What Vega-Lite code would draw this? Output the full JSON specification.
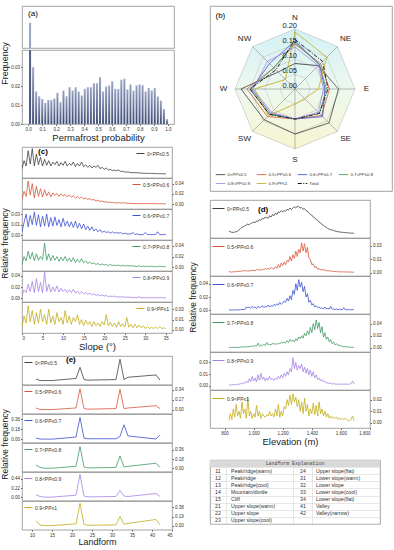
{
"$schema":"https://vega.github.io/schema/vega-lite/v6.json",
"background":"white",
"padding":{"left":0,"top":5,"right":0,"bottom":0},
"config":{
 "font":"Liberation Sans",
 "view":{"stroke":"#8c8c8c","strokeWidth":0.8},
 "axis":{"labelFontSize":4.5,"labelColor":"#333","tickSize":1.5,"tickColor":"#666","domain":false,"grid":false,"titleFontSize":9,"titleFontWeight":"normal","titleColor":"#222","labelPadding":1,"titlePadding":1},
 "legend":{"symbolType":"stroke","labelFontSize":5,"labelColor":"#333","symbolStrokeWidth":1,"padding":1,"offset":1,"labelOffset":2,"symbolSize":64,"rowPadding":0},
 "text":{"font":"Liberation Sans"}
},
"datasets":{
"hist":[
{"p":0.0,"q":0.0217,"f":0.212},{"p":0.0217,"q":0.0435,"f":0.030},{"p":0.0435,"q":0.0652,"f":0.0171},{"p":0.0652,"q":0.087,"f":0.0146},{"p":0.087,"q":0.1087,"f":0.0132},{"p":0.1087,"q":0.1304,"f":0.0111},{"p":0.1304,"q":0.1522,"f":0.0127},{"p":0.1522,"q":0.1739,"f":0.0127},{"p":0.1739,"q":0.1957,"f":0.0134},{"p":0.1957,"q":0.2174,"f":0.0164},{"p":0.2174,"q":0.2391,"f":0.0115},{"p":0.2391,"q":0.2609,"f":0.0176},{"p":0.2609,"q":0.2826,"f":0.0146},{"p":0.2826,"q":0.3043,"f":0.0194},{"p":0.3043,"q":0.3261,"f":0.0176},{"p":0.3261,"q":0.3478,"f":0.0194},{"p":0.3478,"q":0.3696,"f":0.0171},{"p":0.3696,"q":0.3913,"f":0.015},{"p":0.3913,"q":0.413,"f":0.0185},{"p":0.413,"q":0.4348,"f":0.0194},{"p":0.4348,"q":0.4565,"f":0.0194},{"p":0.4565,"q":0.4783,"f":0.0215},{"p":0.4783,"q":0.5,"f":0.0215},{"p":0.5,"q":0.5217,"f":0.0247},{"p":0.5217,"q":0.5435,"f":0.0171},{"p":0.5435,"q":0.5652,"f":0.0198},{"p":0.5652,"q":0.587,"f":0.0203},{"p":0.587,"q":0.6087,"f":0.0226},{"p":0.6087,"q":0.6304,"f":0.0185},{"p":0.6304,"q":0.6522,"f":0.0185},{"p":0.6522,"q":0.6739,"f":0.0233},{"p":0.6739,"q":0.6957,"f":0.0238},{"p":0.6957,"q":0.7174,"f":0.0182},{"p":0.7174,"q":0.7391,"f":0.0208},{"p":0.7391,"q":0.7609,"f":0.0176},{"p":0.7609,"q":0.7826,"f":0.0203},{"p":0.7826,"q":0.8043,"f":0.0208},{"p":0.8043,"q":0.8261,"f":0.0205},{"p":0.8261,"q":0.8478,"f":0.0171},{"p":0.8478,"q":0.8696,"f":0.019},{"p":0.8696,"q":0.8913,"f":0.0176},{"p":0.8913,"q":0.913,"f":0.019},{"p":0.913,"q":0.9348,"f":0.0145},{"p":0.9348,"q":0.9565,"f":0.0123},{"p":0.9565,"q":0.9783,"f":0.0079},{"p":0.9783,"q":1.0,"f":0.0026}
],
"slope":[
{"s":0,"a":0.008,"b":0.01,"c":0.005,"d":0.005,"e":0.005,"f":0.005},
{"s":0.5,"a":0.02,"b":0.025,"c":0.018,"d":0.02,"e":0.015,"f":0.02},
{"s":1,"a":0.012,"b":0.015,"c":0.03,"d":0.012,"e":0.01,"f":0.01},
{"s":1.5,"a":0.035,"b":0.045,"c":0.012,"d":0.03,"e":0.025,"f":0.035},
{"s":2,"a":0.015,"b":0.018,"c":0.028,"d":0.015,"e":0.012,"f":0.012},
{"s":2.5,"a":0.038,"b":0.04,"c":0.015,"d":0.028,"e":0.03,"f":0.028},
{"s":3,"a":0.012,"b":0.012,"c":0.033,"d":0.012,"e":0.01,"f":0.008},
{"s":3.5,"a":0.03,"b":0.035,"c":0.014,"d":0.025,"e":0.035,"f":0.025},
{"s":4,"a":0.014,"b":0.015,"c":0.029,"d":0.013,"e":0.012,"f":0.01},
{"s":4.5,"a":0.025,"b":0.03,"c":0.012,"d":0.02,"e":0.028,"f":0.03},
{"s":5,"a":0.012,"b":0.014,"c":0.027,"d":0.014,"e":0.01,"f":0.012},
{"s":5.5,"a":0.022,"b":0.028,"c":0.013,"d":0.045,"e":0.046,"f":0.022},
{"s":6,"a":0.013,"b":0.016,"c":0.03,"d":0.013,"e":0.012,"f":0.008},
{"s":6.5,"a":0.02,"b":0.024,"c":0.012,"d":0.025,"e":0.025,"f":0.03},
{"s":7,"a":0.012,"b":0.014,"c":0.025,"d":0.012,"e":0.011,"f":0.01},
{"s":7.5,"a":0.018,"b":0.022,"c":0.013,"d":0.022,"e":0.02,"f":0.02},
{"s":8,"a":0.014,"b":0.017,"c":0.026,"d":0.013,"e":0.012,"f":0.008},
{"s":8.5,"a":0.019,"b":0.021,"c":0.014,"d":0.02,"e":0.022,"f":0.025},
{"s":9,"a":0.012,"b":0.015,"c":0.022,"d":0.011,"e":0.011,"f":0.012},
{"s":9.5,"a":0.017,"b":0.02,"c":0.012,"d":0.019,"e":0.018,"f":0.018},
{"s":10,"a":0.013,"b":0.016,"c":0.024,"d":0.012,"e":0.012,"f":0.008},
{"s":10.5,"a":0.019,"b":0.019,"c":0.013,"d":0.02,"e":0.016,"f":0.028},
{"s":11,"a":0.012,"b":0.014,"c":0.02,"d":0.011,"e":0.01,"f":0.01},
{"s":11.5,"a":0.016,"b":0.018,"c":0.012,"d":0.017,"e":0.015,"f":0.02},
{"s":12,"a":0.013,"b":0.014,"c":0.019,"d":0.01,"e":0.01,"f":0.008},
{"s":12.5,"a":0.018,"b":0.016,"c":0.011,"d":0.018,"e":0.016,"f":0.018},
{"s":13,"a":0.011,"b":0.012,"c":0.02,"d":0.009,"e":0.009,"f":0.012},
{"s":13.5,"a":0.016,"b":0.015,"c":0.01,"d":0.015,"e":0.013,"f":0.022},
{"s":14,"a":0.012,"b":0.011,"c":0.017,"d":0.009,"e":0.008,"f":0.008},
{"s":14.5,"a":0.018,"b":0.014,"c":0.009,"d":0.016,"e":0.012,"f":0.015},
{"s":15,"a":0.011,"b":0.01,"c":0.016,"d":0.008,"e":0.008,"f":0.006},
{"s":15.5,"a":0.014,"b":0.012,"c":0.008,"d":0.012,"e":0.01,"f":0.014},
{"s":16,"a":0.01,"b":0.009,"c":0.013,"d":0.007,"e":0.007,"f":0.008},
{"s":16.5,"a":0.013,"b":0.011,"c":0.007,"d":0.01,"e":0.009,"f":0.012},
{"s":17,"a":0.009,"b":0.008,"c":0.012,"d":0.006,"e":0.006,"f":0.005},
{"s":17.5,"a":0.012,"b":0.009,"c":0.006,"d":0.008,"e":0.008,"f":0.012},
{"s":18,"a":0.01,"b":0.006,"c":0.009,"d":0.005,"e":0.005,"f":0.006},
{"s":18.5,"a":0.013,"b":0.008,"c":0.005,"d":0.007,"e":0.007,"f":0.01},
{"s":19,"a":0.008,"b":0.005,"c":0.008,"d":0.004,"e":0.004,"f":0.005},
{"s":19.5,"a":0.01,"b":0.006,"c":0.004,"d":0.006,"e":0.006,"f":0.012},
{"s":20,"a":0.007,"b":0.004,"c":0.006,"d":0.004,"e":0.004,"f":0.007},
{"s":20.5,"a":0.009,"b":0.005,"c":0.004,"d":0.005,"e":0.005,"f":0.022},
{"s":21,"a":0.006,"b":0.003,"c":0.005,"d":0.003,"e":0.003,"f":0.006},
{"s":21.5,"a":0.007,"b":0.004,"c":0.003,"d":0.005,"e":0.004,"f":0.011},
{"s":22,"a":0.005,"b":0.003,"c":0.005,"d":0.003,"e":0.003,"f":0.005},
{"s":22.5,"a":0.006,"b":0.003,"c":0.003,"d":0.004,"e":0.004,"f":0.01},
{"s":23,"a":0.005,"b":0.002,"c":0.004,"d":0.003,"e":0.002,"f":0.004},
{"s":23.5,"a":0.006,"b":0.003,"c":0.003,"d":0.004,"e":0.003,"f":0.012},
{"s":24,"a":0.004,"b":0.002,"c":0.004,"d":0.002,"e":0.002,"f":0.005},
{"s":24.5,"a":0.004,"b":0.003,"c":0.002,"d":0.004,"e":0.003,"f":0.009},
{"s":25,"a":0.003,"b":0.002,"c":0.003,"d":0.002,"e":0.002,"f":0.004},
{"s":25.5,"a":0.003,"b":0.002,"c":0.002,"d":0.003,"e":0.002,"f":0.018},
{"s":26,"a":0.003,"b":0.001,"c":0.002,"d":0.002,"e":0.002,"f":0.004},
{"s":26.5,"a":0.002,"b":0.002,"c":0.002,"d":0.003,"e":0.002,"f":0.008},
{"s":27,"a":0.002,"b":0.001,"c":0.004,"d":0.002,"e":0.001,"f":0.003},
{"s":27.5,"a":0.002,"b":0.001,"c":0.001,"d":0.002,"e":0.002,"f":0.008},
{"s":28,"a":0.002,"b":0.001,"c":0.002,"d":0.001,"e":0.001,"f":0.003},
{"s":28.5,"a":0.0015,"b":0.001,"c":0.001,"d":0.003,"e":0.003,"f":0.007},
{"s":29,"a":0.0015,"b":0.001,"c":0.001,"d":0.001,"e":0.001,"f":0.003},
{"s":29.5,"a":0.001,"b":0.001,"c":0.001,"d":0.002,"e":0.001,"f":0.006},
{"s":30,"a":0.001,"b":0.001,"c":0.004,"d":0.001,"e":0.001,"f":0.002},
{"s":30.5,"a":0.001,"b":0.001,"c":0.001,"d":0.002,"e":0.001,"f":0.005},
{"s":31,"a":0.001,"b":0.001,"c":0.001,"d":0.001,"e":0.001,"f":0.002},
{"s":31.5,"a":0.0008,"b":0.001,"c":0.001,"d":0.002,"e":0.001,"f":0.004},
{"s":32,"a":0.0008,"b":0.001,"c":0.001,"d":0.001,"e":0.001,"f":0.002},
{"s":32.5,"a":0.0006,"b":0.001,"c":0.001,"d":0.001,"e":0.001,"f":0.004},
{"s":33,"a":0.0005,"b":0.0008,"c":0.005,"d":0.001,"e":0.001,"f":0.002},
{"s":33.5,"a":0.0005,"b":0.0008,"c":0.001,"d":0.002,"e":0.001,"f":0.005},
{"s":34,"a":0.0004,"b":0.0006,"c":0.001,"d":0.001,"e":0.001,"f":0.002},
{"s":34.5,"a":0.0003,"b":0.0006,"c":0.001,"d":0.001,"e":0.001,"f":0.003},
{"s":35,"a":0.0003,"b":0.0005,"c":0.001,"d":0.001,"e":0.001,"f":0.002}
],
"elev":[
{"z":830,"a":0.002,"b":0.002,"c":0.001,"d":0.001,"e":0.001,"f":0.002},
{"z":840,"a":0.0015,"b":0.001,"c":0.0005,"d":0.001,"e":0.001,"f":0.008},
{"z":850,"a":0.001,"b":0.001,"c":0.0005,"d":0.001,"e":0.001,"f":0.003},
{"z":860,"a":0.001,"b":0.0015,"c":0.0005,"d":0.001,"e":0.0015,"f":0.012},
{"z":870,"a":0.0012,"b":0.001,"c":0.0005,"d":0.001,"e":0.001,"f":0.005},
{"z":880,"a":0.0015,"b":0.002,"c":0.0006,"d":0.001,"e":0.002,"f":0.016},
{"z":890,"a":0.002,"b":0.0015,"c":0.0006,"d":0.001,"e":0.0015,"f":0.006},
{"z":900,"a":0.003,"b":0.002,"c":0.0008,"d":0.001,"e":0.002,"f":0.01},
{"z":910,"a":0.004,"b":0.0015,"c":0.001,"d":0.0015,"e":0.003,"f":0.004},
{"z":920,"a":0.005,"b":0.0025,"c":0.0012,"d":0.0015,"e":0.002,"f":0.018},
{"z":930,"a":0.0055,"b":0.002,"c":0.0012,"d":0.002,"e":0.004,"f":0.008},
{"z":940,"a":0.006,"b":0.003,"c":0.0015,"d":0.0015,"e":0.003,"f":0.012},
{"z":950,"a":0.007,"b":0.002,"c":0.005,"d":0.002,"e":0.006,"f":0.004},
{"z":960,"a":0.0075,"b":0.0025,"c":0.004,"d":0.0025,"e":0.004,"f":0.022},
{"z":970,"a":0.007,"b":0.002,"c":0.005,"d":0.002,"e":0.009,"f":0.006},
{"z":980,"a":0.008,"b":0.003,"c":0.003,"d":0.003,"e":0.005,"f":0.01},
{"z":990,"a":0.0085,"b":0.0025,"c":0.006,"d":0.0025,"e":0.012,"f":0.004},
{"z":1000,"a":0.009,"b":0.003,"c":0.004,"d":0.003,"e":0.006,"f":0.008},
{"z":1010,"a":0.0085,"b":0.0025,"c":0.005,"d":0.004,"e":0.01,"f":0.005},
{"z":1020,"a":0.01,"b":0.004,"c":0.003,"d":0.003,"e":0.005,"f":0.015},
{"z":1030,"a":0.0095,"b":0.003,"c":0.006,"d":0.008,"e":0.014,"f":0.006},
{"z":1040,"a":0.011,"b":0.0035,"c":0.004,"d":0.003,"e":0.007,"f":0.01},
{"z":1050,"a":0.0105,"b":0.003,"c":0.005,"d":0.005,"e":0.016,"f":0.004},
{"z":1060,"a":0.012,"b":0.004,"c":0.007,"d":0.004,"e":0.008,"f":0.008},
{"z":1070,"a":0.0115,"b":0.0035,"c":0.004,"d":0.006,"e":0.011,"f":0.006},
{"z":1080,"a":0.013,"b":0.005,"c":0.006,"d":0.004,"e":0.006,"f":0.005},
{"z":1090,"a":0.0125,"b":0.004,"c":0.005,"d":0.009,"e":0.01,"f":0.007},
{"z":1100,"a":0.012,"b":0.005,"c":0.008,"d":0.005,"e":0.007,"f":0.006},
{"z":1110,"a":0.014,"b":0.004,"c":0.005,"d":0.006,"e":0.012,"f":0.01},
{"z":1120,"a":0.013,"b":0.006,"c":0.007,"d":0.005,"e":0.008,"f":0.006},
{"z":1130,"a":0.015,"b":0.005,"c":0.006,"d":0.008,"e":0.009,"f":0.008},
{"z":1140,"a":0.014,"b":0.0045,"c":0.009,"d":0.006,"e":0.007,"f":0.005},
{"z":1150,"a":0.016,"b":0.007,"c":0.007,"d":0.007,"e":0.01,"f":0.012},
{"z":1160,"a":0.015,"b":0.005,"c":0.01,"d":0.006,"e":0.008,"f":0.006},
{"z":1170,"a":0.017,"b":0.009,"c":0.008,"d":0.008,"e":0.012,"f":0.016},
{"z":1180,"a":0.0165,"b":0.006,"c":0.012,"d":0.007,"e":0.009,"f":0.005},
{"z":1190,"a":0.018,"b":0.011,"c":0.009,"d":0.009,"e":0.014,"f":0.01},
{"z":1200,"a":0.017,"b":0.008,"c":0.011,"d":0.008,"e":0.01,"f":0.006},
{"z":1210,"a":0.018,"b":0.012,"c":0.014,"d":0.01,"e":0.016,"f":0.014},
{"z":1220,"a":0.0175,"b":0.009,"c":0.012,"d":0.008,"e":0.012,"f":0.012},
{"z":1230,"a":0.019,"b":0.014,"c":0.018,"d":0.012,"e":0.018,"f":0.02},
{"z":1240,"a":0.0185,"b":0.012,"c":0.014,"d":0.009,"e":0.014,"f":0.015},
{"z":1250,"a":0.02,"b":0.018,"c":0.022,"d":0.014,"e":0.022,"f":0.024},
{"z":1260,"a":0.019,"b":0.013,"c":0.016,"d":0.011,"e":0.018,"f":0.016},
{"z":1270,"a":0.02,"b":0.02,"c":0.03,"d":0.013,"e":0.036,"f":0.025},
{"z":1280,"a":0.021,"b":0.016,"c":0.024,"d":0.01,"e":0.022,"f":0.018},
{"z":1290,"a":0.02,"b":0.024,"c":0.04,"d":0.015,"e":0.03,"f":0.022},
{"z":1300,"a":0.0215,"b":0.018,"c":0.03,"d":0.012,"e":0.02,"f":0.014},
{"z":1310,"a":0.021,"b":0.026,"c":0.046,"d":0.018,"e":0.026,"f":0.02},
{"z":1320,"a":0.02,"b":0.022,"c":0.035,"d":0.015,"e":0.022,"f":0.01},
{"z":1330,"a":0.0205,"b":0.033,"c":0.042,"d":0.02,"e":0.028,"f":0.018},
{"z":1340,"a":0.019,"b":0.024,"c":0.028,"d":0.016,"e":0.018,"f":0.008},
{"z":1350,"a":0.0195,"b":0.032,"c":0.036,"d":0.024,"e":0.024,"f":0.021},
{"z":1360,"a":0.018,"b":0.022,"c":0.02,"d":0.02,"e":0.016,"f":0.01},
{"z":1370,"a":0.0175,"b":0.028,"c":0.025,"d":0.028,"e":0.022,"f":0.016},
{"z":1380,"a":0.016,"b":0.016,"c":0.012,"d":0.022,"e":0.014,"f":0.006},
{"z":1390,"a":0.015,"b":0.015,"c":0.015,"d":0.034,"e":0.02,"f":0.012},
{"z":1400,"a":0.0145,"b":0.009,"c":0.008,"d":0.025,"e":0.012,"f":0.008},
{"z":1410,"a":0.013,"b":0.01,"c":0.01,"d":0.04,"e":0.018,"f":0.017},
{"z":1420,"a":0.0125,"b":0.006,"c":0.005,"d":0.03,"e":0.01,"f":0.007},
{"z":1430,"a":0.011,"b":0.007,"c":0.007,"d":0.046,"e":0.014,"f":0.015},
{"z":1440,"a":0.0105,"b":0.004,"c":0.004,"d":0.032,"e":0.008,"f":0.006},
{"z":1450,"a":0.009,"b":0.005,"c":0.005,"d":0.042,"e":0.01,"f":0.018},
{"z":1460,"a":0.0085,"b":0.003,"c":0.003,"d":0.025,"e":0.006,"f":0.008},
{"z":1470,"a":0.007,"b":0.004,"c":0.004,"d":0.035,"e":0.008,"f":0.012},
{"z":1480,"a":0.0065,"b":0.003,"c":0.002,"d":0.018,"e":0.005,"f":0.006},
{"z":1490,"a":0.0055,"b":0.0035,"c":0.005,"d":0.025,"e":0.006,"f":0.01},
{"z":1500,"a":0.005,"b":0.002,"c":0.002,"d":0.014,"e":0.003,"f":0.005},
{"z":1510,"a":0.004,"b":0.003,"c":0.003,"d":0.018,"e":0.004,"f":0.008},
{"z":1520,"a":0.0035,"b":0.002,"c":0.002,"d":0.01,"e":0.003,"f":0.004},
{"z":1530,"a":0.003,"b":0.0025,"c":0.006,"d":0.014,"e":0.003,"f":0.006},
{"z":1540,"a":0.0028,"b":0.0015,"c":0.002,"d":0.007,"e":0.002,"f":0.004},
{"z":1550,"a":0.0025,"b":0.002,"c":0.002,"d":0.01,"e":0.003,"f":0.005},
{"z":1560,"a":0.002,"b":0.0015,"c":0.001,"d":0.005,"e":0.002,"f":0.004},
{"z":1570,"a":0.0018,"b":0.002,"c":0.002,"d":0.007,"e":0.002,"f":0.005},
{"z":1580,"a":0.0015,"b":0.001,"c":0.001,"d":0.004,"e":0.002,"f":0.003},
{"z":1590,"a":0.0013,"b":0.0015,"c":0.002,"d":0.005,"e":0.002,"f":0.004},
{"z":1600,"a":0.0012,"b":0.001,"c":0.001,"d":0.003,"e":0.002,"f":0.003},
{"z":1610,"a":0.001,"b":0.0015,"c":0.001,"d":0.003,"e":0.002,"f":0.004},
{"z":1620,"a":0.001,"b":0.001,"c":0.004,"d":0.002,"e":0.002,"f":0.003},
{"z":1630,"a":0.0008,"b":0.0012,"c":0.001,"d":0.002,"e":0.002,"f":0.004},
{"z":1640,"a":0.0007,"b":0.001,"c":0.001,"d":0.002,"e":0.002,"f":0.003},
{"z":1650,"a":0.0006,"b":0.0012,"c":0.001,"d":0.0015,"e":0.002,"f":0.002},
{"z":1660,"a":0.0005,"b":0.001,"c":0.001,"d":0.0015,"e":0.002,"f":0.002},
{"z":1670,"a":0.0004,"b":0.001,"c":0.001,"d":0.001,"e":0.003,"f":0.003},
{"z":1680,"a":0.0004,"b":0.0008,"c":0.001,"d":0.001,"e":0.006,"f":0.006},
{"z":1690,"a":0.0003,"b":0.001,"c":0.001,"d":0.001,"e":0.002,"f":0.002}
],
"land":[
{"l":11,"a":0.03,"b":0.03,"c":0.02,"d":0.07,"e":0.06,"f":0.1},
{"l":12,"a":0.005,"b":0.005,"c":0.005,"d":0.02,"e":0.02,"f":0.02},
{"l":13,"a":0.003,"b":0.003,"c":0.003,"d":0.005,"e":0.005,"f":0.005},
{"l":14,"a":0.003,"b":0.003,"c":0.003,"d":0.005,"e":0.005,"f":0.005},
{"l":15,"a":0.003,"b":0.003,"c":0.003,"d":0.005,"e":0.005,"f":0.005},
{"l":21,"a":0.04,"b":0.03,"c":0.04,"d":0.04,"e":0.05,"f":0.04},
{"l":22,"a":0.23,"b":0.36,"c":0.39,"d":0.42,"e":0.54,"f":0.46},
{"l":23,"a":0.02,"b":0.02,"c":0.02,"d":0.03,"e":0.03,"f":0.03},
{"l":24,"a":0.01,"b":0.01,"c":0.01,"d":0.01,"e":0.01,"f":0.01},
{"l":31,"a":0.02,"b":0.02,"c":0.01,"d":0.02,"e":0.02,"f":0.02},
{"l":32,"a":0.37,"b":0.35,"c":0.05,"d":0.24,"e":0.16,"f":0.19},
{"l":33,"a":0.02,"b":0.02,"c":0.26,"d":0.03,"e":0.03,"f":0.03},
{"l":34,"a":0.06,"b":0.03,"c":0.06,"d":0.04,"e":0.02,"f":0.05},
{"l":41,"a":0.1,"b":0.07,"c":0.005,"d":0.1,"e":0.09,"f":0.13},
{"l":42,"a":0.01,"b":0.02,"c":0.08,"d":0.02,"e":0.02,"f":0.02}
],
"radar":[
{"g":"0<PP≤0.5","a":0,"v":0.085},{"g":"0<PP≤0.5","a":45,"v":0.11},{"g":"0<PP≤0.5","a":90,"v":0.145},{"g":"0<PP≤0.5","a":135,"v":0.16},{"g":"0<PP≤0.5","a":180,"v":0.15},{"g":"0<PP≤0.5","a":225,"v":0.145},{"g":"0<PP≤0.5","a":270,"v":0.18},{"g":"0<PP≤0.5","a":315,"v":0.08},{"g":"0<PP≤0.5","a":360,"v":0.085},
{"g":"0.5<PP≤0.6","a":0,"v":0.15},{"g":"0.5<PP≤0.6","a":45,"v":0.12},{"g":"0.5<PP≤0.6","a":90,"v":0.115},{"g":"0.5<PP≤0.6","a":135,"v":0.125},{"g":"0.5<PP≤0.6","a":180,"v":0.1},{"g":"0.5<PP≤0.6","a":225,"v":0.13},{"g":"0.5<PP≤0.6","a":270,"v":0.16},{"g":"0.5<PP≤0.6","a":315,"v":0.1},{"g":"0.5<PP≤0.6","a":360,"v":0.15},
{"g":"0.6<PP≤0.7","a":0,"v":0.16},{"g":"0.6<PP≤0.7","a":45,"v":0.115},{"g":"0.6<PP≤0.7","a":90,"v":0.1},{"g":"0.6<PP≤0.7","a":135,"v":0.13},{"g":"0.6<PP≤0.7","a":180,"v":0.1},{"g":"0.6<PP≤0.7","a":225,"v":0.115},{"g":"0.6<PP≤0.7","a":270,"v":0.145},{"g":"0.6<PP≤0.7","a":315,"v":0.12},{"g":"0.6<PP≤0.7","a":360,"v":0.16},
{"g":"0.7<PP≤0.8","a":0,"v":0.155},{"g":"0.7<PP≤0.8","a":45,"v":0.115},{"g":"0.7<PP≤0.8","a":90,"v":0.105},{"g":"0.7<PP≤0.8","a":135,"v":0.115},{"g":"0.7<PP≤0.8","a":180,"v":0.1},{"g":"0.7<PP≤0.8","a":225,"v":0.12},{"g":"0.7<PP≤0.8","a":270,"v":0.15},{"g":"0.7<PP≤0.8","a":315,"v":0.1},{"g":"0.7<PP≤0.8","a":360,"v":0.155},
{"g":"0.8<PP≤0.9","a":0,"v":0.14},{"g":"0.8<PP≤0.9","a":45,"v":0.11},{"g":"0.8<PP≤0.9","a":90,"v":0.095},{"g":"0.8<PP≤0.9","a":135,"v":0.11},{"g":"0.8<PP≤0.9","a":180,"v":0.1},{"g":"0.8<PP≤0.9","a":225,"v":0.11},{"g":"0.8<PP≤0.9","a":270,"v":0.14},{"g":"0.8<PP≤0.9","a":315,"v":0.13},{"g":"0.8<PP≤0.9","a":360,"v":0.14},
{"g":"0.9<PP≤1","a":0,"v":0.19},{"g":"0.9<PP≤1","a":45,"v":0.15},{"g":"0.9<PP≤1","a":90,"v":0.078},{"g":"0.9<PP≤1","a":135,"v":0.045},{"g":"0.9<PP≤1","a":180,"v":0.05},{"g":"0.9<PP≤1","a":225,"v":0.125},{"g":"0.9<PP≤1","a":270,"v":0.135},{"g":"0.9<PP≤1","a":315,"v":0.045},{"g":"0.9<PP≤1","a":360,"v":0.19},
{"g":"Total","a":0,"v":0.165},{"g":"Total","a":45,"v":0.13},{"g":"Total","a":90,"v":0.11},{"g":"Total","a":135,"v":0.115},{"g":"Total","a":180,"v":0.1},{"g":"Total","a":225,"v":0.12},{"g":"Total","a":270,"v":0.15},{"g":"Total","a":315,"v":0.09},{"g":"Total","a":360,"v":0.165}
],
"tbl":[
{"r":1,"c1":"11","n1":"Peak/ridge(warm)","c2":"24","n2":"Upper slope(flat)"},
{"r":2,"c1":"12","n1":"Peak/ridge","c2":"31","n2":"Lower slope(warm)"},
{"r":3,"c1":"13","n1":"Peak/ridge(cool)","c2":"32","n2":"Lower slope"},
{"r":4,"c1":"14","n1":"Mountain/divide","c2":"33","n2":"Lower slope(cool)"},
{"r":5,"c1":"15","n1":"Cliff","c2":"34","n2":"Lower slope(flat)"},
{"r":6,"c1":"21","n1":"Upper slope(warm)","c2":"41","n2":"Valley"},
{"r":7,"c1":"22","n1":"Upper slope","c2":"42","n2":"Valley(narrow)"},
{"r":8,"c1":"23","n1":"Upper slope(cool)","c2":"","n2":""}
]
},
"spacing":4,
"resolve":{"scale":{"color":"independent","strokeDash":"independent"},"legend":{"color":"independent","strokeDash":"independent"}},
"hconcat":[
{"spacing":4,
 "resolve":{"scale":{"color":"independent"},"legend":{"color":"independent"}},
 "vconcat":[
 {"spacing":2,"bounds":"flush",
  "vconcat":[
  {"width":152,"height":42,
   "layer":[
    {"data":{"name":"hist"},"transform":[{"filter":"datum.f > 0.2"}],
     "mark":{"type":"bar","clip":true,"fill":{"gradient":"linear","x1":0,"y1":0,"x2":0,"y2":1,"stops":[{"offset":0,"color":"#97a1c2"},{"offset":1,"color":"#34426f"}]},"stroke":"#e6e9f2","strokeWidth":0.25},
     "encoding":{"x":{"field":"p","bin":"binned","type":"quantitative","scale":{"domain":[-0.043,1.043],"nice":false},"axis":null},"x2":{"field":"q"},
      "y":{"field":"f","type":"quantitative","scale":{"domain":[0.2,0.22],"nice":false,"zero":false},"axis":{"values":[0.21,0.22],"format":".2f","title":null}}}},
    {"data":{"values":[{"t":"(a)"}]},"mark":{"type":"text","align":"left","baseline":"middle","fontSize":8},"encoding":{"x":{"datum":0.0,"axis":null},"y":{"datum":0.2162,"axis":null},"text":{"field":"t"}}}
   ]},
  {"width":152,"height":74,"data":{"name":"hist"},
   "mark":{"type":"bar","clip":true,"fill":{"gradient":"linear","x1":0,"y1":0,"x2":0,"y2":1,"stops":[{"offset":0,"color":"#97a1c2"},{"offset":1,"color":"#34426f"}]},"stroke":"#e6e9f2","strokeWidth":0.25},
   "encoding":{"x":{"field":"p","bin":"binned","type":"quantitative","scale":{"domain":[-0.043,1.043],"nice":false},"axis":{"values":[0,0.1,0.2,0.3,0.4,0.5,0.6,0.7,0.8,0.9,1.0],"format":".1f","title":"Permafrost probability","titleFontSize":9.5}},"x2":{"field":"q"},
    "y":{"field":"f","type":"quantitative","scale":{"domain":[0,0.039],"nice":false},"axis":{"values":[0,0.01,0.02,0.03],"format":".2f","title":"Frequency","titleY":13}}}}
  ]},
 {"spacing":0,"bounds":"flush",
  "resolve":{"scale":{"color":"independent"},"legend":{"color":"independent"}},
  "vconcat":[
  {"width":150,"height":31,"data":{"name":"slope"},
   "layer":[
    {"mark":{"type":"line","clip":true,"strokeWidth":0.8},
     "encoding":{"x":{"field":"s","type":"quantitative","scale":{"domain":[0,36.5],"nice":false},"axis":null},
      "y":{"field":"a","type":"quantitative","scale":{"domain":[-0.006,0.0405],"nice":false,"zero":false},"axis":{"orient":"left","values":[0,0.015,0.03],"format":".2f","title":null}},
      "color":{"datum":"0<PP≤0.5","scale":{"domain":["0<PP≤0.5"],"range":["#404040"]},"legend":{"orient":"top-right","title":null}}}},
    {"data":{"values":[{"t":"(c)"}]},"mark":{"type":"text","align":"left","baseline":"middle","fontSize":8,"fontWeight":"bold"},"encoding":{"x":{"datum":3.9,"axis":null},"y":{"datum":0.033,"axis":null},"text":{"field":"t"}}}
   ]},
  {"width":150,"height":31,"data":{"name":"slope"},"mark":{"type":"line","clip":true,"strokeWidth":0.8},
   "encoding":{"x":{"field":"s","type":"quantitative","scale":{"domain":[0,36.5],"nice":false},"axis":null},
    "y":{"field":"b","type":"quantitative","scale":{"domain":[-0.0095,0.051],"nice":false,"zero":false},"axis":{"orient":"right","values":[0,0.02,0.04],"format":".2f","title":null}},
    "color":{"datum":"0.5<PP≤0.6","scale":{"domain":["0.5<PP≤0.6"],"range":["#d8553e"]},"legend":{"orient":"top-right","title":null}}}},
  {"width":150,"height":31,"data":{"name":"slope"},"mark":{"type":"line","clip":true,"strokeWidth":0.8},
   "encoding":{"x":{"field":"s","type":"quantitative","scale":{"domain":[0,36.5],"nice":false},"axis":null},
    "y":{"field":"c","type":"quantitative","scale":{"domain":[-0.0066,0.0371],"nice":false,"zero":false},"axis":{"orient":"left","values":[0,0.015,0.03],"format":".2f","title":"Relative frequency","titleY":34,"titleFontSize":8.5}},
    "color":{"datum":"0.6<PP≤0.7","scale":{"domain":["0.6<PP≤0.7"],"range":["#3f51d4"]},"legend":{"orient":"top-right","title":null}}}},
  {"width":150,"height":31,"data":{"name":"slope"},"mark":{"type":"line","clip":true,"strokeWidth":0.8},
   "encoding":{"x":{"field":"s","type":"quantitative","scale":{"domain":[0,36.5],"nice":false},"axis":null},
    "y":{"field":"d","type":"quantitative","scale":{"domain":[-0.0072,0.0511],"nice":false,"zero":false},"axis":{"orient":"right","values":[0,0.02,0.04],"format":".2f","title":null}},
    "color":{"datum":"0.7<PP≤0.8","scale":{"domain":["0.7<PP≤0.8"],"range":["#3f9a63"]},"legend":{"orient":"top-right","title":null}}}},
  {"width":150,"height":31,"data":{"name":"slope"},"mark":{"type":"line","clip":true,"strokeWidth":0.8},
   "encoding":{"x":{"field":"s","type":"quantitative","scale":{"domain":[0,36.5],"nice":false},"axis":null},
    "y":{"field":"e","type":"quantitative","scale":{"domain":[-0.0065,0.0483],"nice":false,"zero":false},"axis":{"orient":"left","values":[0,0.02,0.04],"format":".2f","title":null}},
    "color":{"datum":"0.8<PP≤0.9","scale":{"domain":["0.8<PP≤0.9"],"range":["#a781e6"]},"legend":{"orient":"top-right","title":null}}}},
  {"width":150,"height":31,"data":{"name":"slope"},"mark":{"type":"line","clip":true,"strokeWidth":0.8},
   "encoding":{"x":{"field":"s","type":"quantitative","scale":{"domain":[0,36.5],"nice":false},"axis":{"values":[0,5,10,15,20,25,30,35],"title":"Slope (°)","titleFontSize":9.5}},
    "y":{"field":"f","type":"quantitative","scale":{"domain":[-0.0045,0.0405],"nice":false,"zero":false},"axis":{"orient":"right","values":[0,0.015,0.03],"format":".2f","title":null}},
    "color":{"datum":"0.9<PP≤1","scale":{"domain":["0.9<PP≤1"],"range":["#c2ad18"]},"legend":{"orient":"top-right","title":null}}}}
  ]},
 {"spacing":0,"bounds":"flush",
  "resolve":{"scale":{"color":"independent"},"legend":{"color":"independent"}},
  "vconcat":[
  {"width":150,"height":28.7,"data":{"name":"land"},
   "layer":[
    {"mark":{"type":"line","clip":true,"strokeWidth":0.8},
     "encoding":{"x":{"field":"l","type":"quantitative","scale":{"domain":[7.5,45],"nice":false},"axis":null},
      "y":{"field":"a","type":"quantitative","scale":{"domain":[-0.068,0.426],"nice":false,"zero":false},"axis":{"orient":"left","values":[0,0.17,0.34],"format":".2f","title":null}},
      "color":{"datum":"0<PP≤0.5","scale":{"domain":["0<PP≤0.5"],"range":["#404040"]},"legend":{"orient":"top-left","title":null}}}},
    {"data":{"values":[{"t":"(e)"}]},"mark":{"type":"text","align":"left","baseline":"middle","fontSize":8,"fontWeight":"bold"},"encoding":{"x":{"datum":18.5,"axis":null},"y":{"datum":0.358,"axis":null},"text":{"field":"t"}}}
   ]},
  {"width":150,"height":28.7,"data":{"name":"land"},"mark":{"type":"line","clip":true,"strokeWidth":0.8},
   "encoding":{"x":{"field":"l","type":"quantitative","scale":{"domain":[7.5,45],"nice":false},"axis":null},
    "y":{"field":"b","type":"quantitative","scale":{"domain":[-0.068,0.425],"nice":false,"zero":false},"axis":{"orient":"right","values":[0,0.17,0.34],"format":".2f","title":null}},
    "color":{"datum":"0.5<PP≤0.6","scale":{"domain":["0.5<PP≤0.6"],"range":["#d8553e"]},"legend":{"orient":"top-left","title":null}}}},
  {"width":150,"height":28.7,"data":{"name":"land"},"mark":{"type":"line","clip":true,"strokeWidth":0.8},
   "encoding":{"x":{"field":"l","type":"quantitative","scale":{"domain":[7.5,45],"nice":false},"axis":null},
    "y":{"field":"c","type":"quantitative","scale":{"domain":[-0.061,0.453],"nice":false,"zero":false},"axis":{"orient":"left","values":[0,0.18,0.36],"format":".2f","title":"Relative frequency","titleY":30,"titleFontSize":8.5}},
    "color":{"datum":"0.6<PP≤0.7","scale":{"domain":["0.6<PP≤0.7"],"range":["#3f51d4"]},"legend":{"orient":"top-left","title":null}}}},
  {"width":150,"height":28.7,"data":{"name":"land"},"mark":{"type":"line","clip":true,"strokeWidth":0.8},
   "encoding":{"x":{"field":"l","type":"quantitative","scale":{"domain":[7.5,45],"nice":false},"axis":null},
    "y":{"field":"d","type":"quantitative","scale":{"domain":[-0.062,0.487],"nice":false,"zero":false},"axis":{"orient":"right","values":[0,0.18,0.36],"format":".2f","title":null}},
    "color":{"datum":"0.7<PP≤0.8","scale":{"domain":["0.7<PP≤0.8"],"range":["#3f9a63"]},"legend":{"orient":"top-left","title":null}}}},
  {"width":150,"height":28.7,"data":{"name":"land"},"mark":{"type":"line","clip":true,"strokeWidth":0.8},
   "encoding":{"x":{"field":"l","type":"quantitative","scale":{"domain":[7.5,45],"nice":false},"axis":null},
    "y":{"field":"e","type":"quantitative","scale":{"domain":[-0.08,0.6],"nice":false,"zero":false},"axis":{"orient":"left","values":[0,0.22,0.44],"format":".2f","title":null}},
    "color":{"datum":"0.8<PP≤0.9","scale":{"domain":["0.8<PP≤0.9"],"range":["#a781e6"]},"legend":{"orient":"top-left","title":null}}}},
  {"width":150,"height":28.7,"data":{"name":"land"},"mark":{"type":"line","clip":true,"strokeWidth":0.8},
   "encoding":{"x":{"field":"l","type":"quantitative","scale":{"domain":[7.5,45],"nice":false},"axis":{"values":[10,15,20,25,30,35,40,45],"title":"Landform","titleFontSize":9}},
    "y":{"field":"f","type":"quantitative","scale":{"domain":[-0.08,0.51],"nice":false,"zero":false},"axis":{"orient":"right","values":[0,0.19,0.38],"format":".2f","title":null}},
    "color":{"datum":"0.9<PP≤1","scale":{"domain":["0.9<PP≤1"],"range":["#c2ad18"]},"legend":{"orient":"top-left","title":null}}}}
  ]}
 ]},
{"spacing":7,
 "resolve":{"scale":{"color":"independent","strokeDash":"independent"},"legend":{"color":"independent","strokeDash":"independent"}},
 "vconcat":[
 {"width":182,"height":185,
  "layer":[
   {"data":{"values":[{"a":0},{"a":45},{"a":90},{"a":135},{"a":180},{"a":225},{"a":270},{"a":315},{"a":360}]},
    "transform":[{"calculate":"0.2*sin(datum.a*PI/180)","as":"x"},{"calculate":"0.2*cos(datum.a*PI/180)","as":"y"}],
    "mark":{"type":"line","fill":{"gradient":"linear","x1":0,"y1":0,"x2":0,"y2":1,"stops":[{"offset":0,"color":"#d3f1f6"},{"offset":0.5,"color":"#edf8ef"},{"offset":1,"color":"#f6f5cf"}]},"stroke":"#b0b0b0","strokeWidth":0.5},
    "encoding":{"x":{"field":"x","type":"quantitative","scale":{"domain":[-0.2833,0.3233],"nice":false,"zero":false},"axis":null},"y":{"field":"y","type":"quantitative","scale":{"domain":[-0.34,0.2767],"nice":false,"zero":false},"axis":null},"order":{"field":"a","type":"quantitative"}}},
   {"data":{"values":[{"r":0.05,"a":0},{"r":0.05,"a":45},{"r":0.05,"a":90},{"r":0.05,"a":135},{"r":0.05,"a":180},{"r":0.05,"a":225},{"r":0.05,"a":270},{"r":0.05,"a":315},{"r":0.05,"a":360},{"r":0.1,"a":0},{"r":0.1,"a":45},{"r":0.1,"a":90},{"r":0.1,"a":135},{"r":0.1,"a":180},{"r":0.1,"a":225},{"r":0.1,"a":270},{"r":0.1,"a":315},{"r":0.1,"a":360},{"r":0.15,"a":0},{"r":0.15,"a":45},{"r":0.15,"a":90},{"r":0.15,"a":135},{"r":0.15,"a":180},{"r":0.15,"a":225},{"r":0.15,"a":270},{"r":0.15,"a":315},{"r":0.15,"a":360}]},
    "transform":[{"calculate":"datum.r*sin(datum.a*PI/180)","as":"x"},{"calculate":"datum.r*cos(datum.a*PI/180)","as":"y"}],
    "mark":{"type":"line","stroke":"#bdbdbd","strokeWidth":0.5},
    "encoding":{"x":{"field":"x","type":"quantitative","scale":{"domain":[-0.2833,0.3233],"nice":false,"zero":false},"axis":null},"y":{"field":"y","type":"quantitative","scale":{"domain":[-0.34,0.2767],"nice":false,"zero":false},"axis":null},"detail":{"field":"r","type":"nominal"},"order":{"field":"a","type":"quantitative"}}},
   {"data":{"values":[{"a":0},{"a":45},{"a":90},{"a":135},{"a":180},{"a":225},{"a":270},{"a":315}]},
    "transform":[{"calculate":"0","as":"x0"},{"calculate":"0.2*sin(datum.a*PI/180)","as":"x2"},{"calculate":"0.2*cos(datum.a*PI/180)","as":"y2"}],
    "mark":{"type":"rule","stroke":"#7a7a7a","strokeWidth":0.5},
    "encoding":{"x":{"field":"x0","type":"quantitative","scale":{"domain":[-0.2833,0.3233],"nice":false,"zero":false},"axis":null},"y":{"field":"x0","type":"quantitative","scale":{"domain":[-0.34,0.2767],"nice":false,"zero":false},"axis":null},"x2":{"field":"x2"},"y2":{"field":"y2"}}},
   {"data":{"name":"radar"},
    "transform":[{"calculate":"datum.v*sin(datum.a*PI/180)","as":"x"},{"calculate":"datum.v*cos(datum.a*PI/180)","as":"y"}],
    "mark":{"type":"line","strokeWidth":0.9},
    "encoding":{"x":{"field":"x","type":"quantitative","scale":{"domain":[-0.2833,0.3233],"nice":false,"zero":false},"axis":null},"y":{"field":"y","type":"quantitative","scale":{"domain":[-0.34,0.2767],"nice":false,"zero":false},"axis":null},"order":{"field":"a","type":"quantitative"},
     "color":{"field":"g","type":"nominal","scale":{"domain":["0<PP≤0.5","0.5<PP≤0.6","0.6<PP≤0.7","0.7<PP≤0.8","0.8<PP≤0.9","0.9<PP≤1","Total"],"range":["#404040","#d8553e","#3f51d4","#3f9a63","#a781e6","#c2ad18","#111111"]},"legend":{"orient":"bottom-left","title":null,"columns":4,"direction":"horizontal","labelFontSize":4.3,"symbolSize":90,"columnPadding":3,"rowPadding":1,"offset":4,"labelOffset":1.5}},
     "strokeDash":{"field":"g","type":"nominal","scale":{"domain":["0<PP≤0.5","0.5<PP≤0.6","0.6<PP≤0.7","0.7<PP≤0.8","0.8<PP≤0.9","0.9<PP≤1","Total"],"range":[[1,0],[1,0],[1,0],[1,0],[1,0],[1,0],[4,1.5,1,1.5]]},"legend":{"orient":"bottom-left","title":null,"columns":4,"direction":"horizontal","labelFontSize":4.3,"symbolSize":90,"columnPadding":3,"rowPadding":1,"offset":4,"labelOffset":1.5}}}},
   {"data":{"values":[{"d":"N","a":0},{"d":"NE","a":45},{"d":"E","a":90},{"d":"SE","a":135},{"d":"S","a":180},{"d":"SW","a":225},{"d":"W","a":270},{"d":"NW","a":315}]},
    "transform":[{"calculate":"0.238*sin(datum.a*PI/180)","as":"x"},{"calculate":"0.238*cos(datum.a*PI/180)","as":"y"}],
    "mark":{"type":"text","fontSize":8,"color":"#222","baseline":"middle"},
    "encoding":{"x":{"field":"x","type":"quantitative","scale":{"domain":[-0.2833,0.3233],"nice":false,"zero":false},"axis":null},"y":{"field":"y","type":"quantitative","scale":{"domain":[-0.34,0.2767],"nice":false,"zero":false},"axis":null},"text":{"field":"d"}}},
   {"data":{"values":[{"t":"0.00","r":0,"z":0},{"t":"0.05","r":0.05,"z":0},{"t":"0.10","r":0.1,"z":0},{"t":"0.15","r":0.15,"z":0},{"t":"0.20","r":0.2,"z":0}]},
    "mark":{"type":"text","fontSize":7.5,"color":"#222","align":"right","baseline":"middle","dx":2,"dy":-3},
    "encoding":{"x":{"field":"z","type":"quantitative","scale":{"domain":[-0.2833,0.3233],"nice":false,"zero":false},"axis":null},"y":{"field":"r","type":"quantitative","scale":{"domain":[-0.34,0.2767],"nice":false,"zero":false},"axis":null},"text":{"field":"t"}}},
   {"data":{"values":[{"t":"(b)","x":-0.265,"y":0.243}]},"mark":{"type":"text","align":"left","baseline":"middle","fontSize":8},
    "encoding":{"x":{"field":"x","type":"quantitative","scale":{"domain":[-0.2833,0.3233],"nice":false,"zero":false},"axis":null},"y":{"field":"y","type":"quantitative","scale":{"domain":[-0.34,0.2767],"nice":false,"zero":false},"axis":null},"text":{"field":"t"}}}
  ]},
 {"spacing":13,
  "resolve":{"scale":{"color":"independent"},"legend":{"color":"independent"}},
  "vconcat":[
  {"spacing":0,"bounds":"flush",
   "resolve":{"scale":{"color":"independent"},"legend":{"color":"independent"}},
   "vconcat":[
   {"width":160,"height":38,"data":{"name":"elev"},
    "layer":[
     {"mark":{"type":"line","clip":true,"strokeWidth":0.8},
      "encoding":{"x":{"field":"z","type":"quantitative","scale":{"domain":[700,1800],"nice":false},"axis":null},
       "y":{"field":"a","type":"quantitative","scale":{"domain":[-0.0034,0.0263],"nice":false,"zero":false},"axis":{"orient":"left","values":[0,0.01,0.02],"format":".2f","title":null}},
       "color":{"datum":"0<PP≤0.5","scale":{"domain":["0<PP≤0.5"],"range":["#404040"]},"legend":{"orient":"top-left","title":null,"symbolSize":144}}}},
     {"data":{"values":[{"t":"(d)"}]},"mark":{"type":"text","align":"left","baseline":"middle","fontSize":8,"fontWeight":"bold"},"encoding":{"x":{"datum":1030,"axis":null},"y":{"datum":0.0185,"axis":null},"text":{"field":"t"}}}
    ]},
   {"width":160,"height":38,"data":{"name":"elev"},"mark":{"type":"line","clip":true,"strokeWidth":0.8},
    "encoding":{"x":{"field":"z","type":"quantitative","scale":{"domain":[700,1800],"nice":false},"axis":null},
     "y":{"field":"b","type":"quantitative","scale":{"domain":[-0.0033,0.0383],"nice":false,"zero":false},"axis":{"orient":"right","values":[0,0.015,0.03],"format":".2f","title":null}},
     "color":{"datum":"0.5<PP≤0.6","scale":{"domain":["0.5<PP≤0.6"],"range":["#d8553e"]},"legend":{"orient":"top-left","title":null,"symbolSize":144}}}},
   {"width":160,"height":38,"data":{"name":"elev"},"mark":{"type":"line","clip":true,"strokeWidth":0.8},
    "encoding":{"x":{"field":"z","type":"quantitative","scale":{"domain":[700,1800],"nice":false},"axis":null},
     "y":{"field":"c","type":"quantitative","scale":{"domain":[-0.0055,0.0516],"nice":false,"zero":false},"axis":{"orient":"left","values":[0,0.02,0.04],"format":".2f","title":"Relative frequency","titleY":21,"titleFontSize":8.5}},
     "color":{"datum":"0.6<PP≤0.7","scale":{"domain":["0.6<PP≤0.7"],"range":["#3f51d4"]},"legend":{"orient":"top-left","title":null,"symbolSize":144}}}},
   {"width":160,"height":38,"data":{"name":"elev"},"mark":{"type":"line","clip":true,"strokeWidth":0.8},
    "encoding":{"x":{"field":"z","type":"quantitative","scale":{"domain":[700,1800],"nice":false},"axis":null},
     "y":{"field":"d","type":"quantitative","scale":{"domain":[-0.0066,0.0557],"nice":false,"zero":false},"axis":{"orient":"right","values":[0,0.02,0.04],"format":".2f","title":null}},
     "color":{"datum":"0.7<PP≤0.8","scale":{"domain":["0.7<PP≤0.8"],"range":["#3f9a63"]},"legend":{"orient":"top-left","title":null,"symbolSize":144}}}},
   {"width":160,"height":38,"data":{"name":"elev"},"mark":{"type":"line","clip":true,"strokeWidth":0.8},
    "encoding":{"x":{"field":"z","type":"quantitative","scale":{"domain":[700,1800],"nice":false},"axis":null},
     "y":{"field":"e","type":"quantitative","scale":{"domain":[-0.0055,0.0433],"nice":false,"zero":false},"axis":{"orient":"left","values":[0,0.015,0.03],"format":".2f","title":null}},
     "color":{"datum":"0.8<PP≤0.9","scale":{"domain":["0.8<PP≤0.9"],"range":["#a781e6"]},"legend":{"orient":"top-left","title":null,"symbolSize":144}}}},
   {"width":160,"height":38,"data":{"name":"elev"},"mark":{"type":"line","clip":true,"strokeWidth":0.8},
    "encoding":{"x":{"field":"z","type":"quantitative","scale":{"domain":[700,1800],"nice":false},"axis":{"values":[800,1000,1200,1400,1600,1800],"title":"Elevation (m)","titleFontSize":9.5}},
     "y":{"field":"f","type":"quantitative","scale":{"domain":[-0.0043,0.0282],"nice":false,"zero":false},"axis":{"orient":"right","values":[0,0.01,0.02],"format":".2f","title":null}},
     "color":{"datum":"0.9<PP≤1","scale":{"domain":["0.9<PP≤1"],"range":["#c2ad18"]},"legend":{"orient":"top-left","title":null,"symbolSize":144}}}}
   ]},
  {"width":170,"height":64,
   "layer":[
    {"data":{"values":[{"r":0,"t":"Landform Explanation","x1":0,"x2":170,"xm":85}]},"mark":{"type":"rect","fill":"#d9d9d9"},
     "encoding":{"x":{"field":"x1","type":"quantitative","scale":{"domain":[0,170],"nice":false,"zero":false},"axis":null},"x2":{"field":"x2"},
      "y":{"field":"r","type":"ordinal","scale":{"domain":[0,1,2,3,4,5,6,7,8],"paddingInner":0,"paddingOuter":0},"axis":{"grid":true,"gridColor":"#cfcfcf","gridWidth":0.5,"labels":false,"ticks":false,"domain":false,"title":null,"tickBand":"extent"}}}},
    {"data":{"values":[{"r":0,"t":"Landform Explanation","xm":85}]},"mark":{"type":"text","font":"Liberation Mono","fontSize":4.9,"color":"#444","align":"center","baseline":"middle"},
     "encoding":{"x":{"field":"xm","type":"quantitative","scale":{"domain":[0,170],"nice":false,"zero":false},"axis":null},"y":{"field":"r","type":"ordinal","scale":{"domain":[0,1,2,3,4,5,6,7,8],"paddingInner":0,"paddingOuter":0}},"text":{"field":"t"}}},
    {"data":{"name":"tbl"},"transform":[{"calculate":"16.2","as":"v1"},{"calculate":"16.7","as":"v2"},{"calculate":"83.2","as":"w1"},{"calculate":"83.7","as":"w2"},{"calculate":"102.2","as":"u1"},{"calculate":"102.7","as":"u2"}],
     "layer":[
      {"mark":{"type":"rect","fill":"#cfcfcf"},"encoding":{"x":{"field":"v1","type":"quantitative","scale":{"domain":[0,170],"nice":false,"zero":false},"axis":null},"x2":{"field":"v2"},"y":{"field":"r","type":"ordinal","scale":{"domain":[0,1,2,3,4,5,6,7,8],"paddingInner":0,"paddingOuter":0}}}},
      {"mark":{"type":"rect","fill":"#cfcfcf"},"encoding":{"x":{"field":"w1","type":"quantitative","scale":{"domain":[0,170],"nice":false,"zero":false},"axis":null},"x2":{"field":"w2"},"y":{"field":"r","type":"ordinal","scale":{"domain":[0,1,2,3,4,5,6,7,8],"paddingInner":0,"paddingOuter":0}}}},
      {"mark":{"type":"rect","fill":"#cfcfcf"},"encoding":{"x":{"field":"u1","type":"quantitative","scale":{"domain":[0,170],"nice":false,"zero":false},"axis":null},"x2":{"field":"u2"},"y":{"field":"r","type":"ordinal","scale":{"domain":[0,1,2,3,4,5,6,7,8],"paddingInner":0,"paddingOuter":0}}}},
      {"mark":{"type":"text","fontSize":5.2,"color":"#333","align":"center","baseline":"middle"},"encoding":{"x":{"datum":8,"type":"quantitative","scale":{"domain":[0,170],"nice":false,"zero":false},"axis":null},"y":{"field":"r","type":"ordinal","scale":{"domain":[0,1,2,3,4,5,6,7,8],"paddingInner":0,"paddingOuter":0}},"text":{"field":"c1"}}},
      {"mark":{"type":"text","fontSize":5.2,"color":"#333","align":"left","baseline":"middle"},"encoding":{"x":{"datum":21,"type":"quantitative","scale":{"domain":[0,170],"nice":false,"zero":false},"axis":null},"y":{"field":"r","type":"ordinal","scale":{"domain":[0,1,2,3,4,5,6,7,8],"paddingInner":0,"paddingOuter":0}},"text":{"field":"n1"}}},
      {"mark":{"type":"text","fontSize":5.2,"color":"#333","align":"center","baseline":"middle"},"encoding":{"x":{"datum":93,"type":"quantitative","scale":{"domain":[0,170],"nice":false,"zero":false},"axis":null},"y":{"field":"r","type":"ordinal","scale":{"domain":[0,1,2,3,4,5,6,7,8],"paddingInner":0,"paddingOuter":0}},"text":{"field":"c2"}}},
      {"mark":{"type":"text","fontSize":5.2,"color":"#333","align":"left","baseline":"middle"},"encoding":{"x":{"datum":106,"type":"quantitative","scale":{"domain":[0,170],"nice":false,"zero":false},"axis":null},"y":{"field":"r","type":"ordinal","scale":{"domain":[0,1,2,3,4,5,6,7,8],"paddingInner":0,"paddingOuter":0}},"text":{"field":"n2"}}}
     ]}
   ]}
  ]}
 ]}
]
}
